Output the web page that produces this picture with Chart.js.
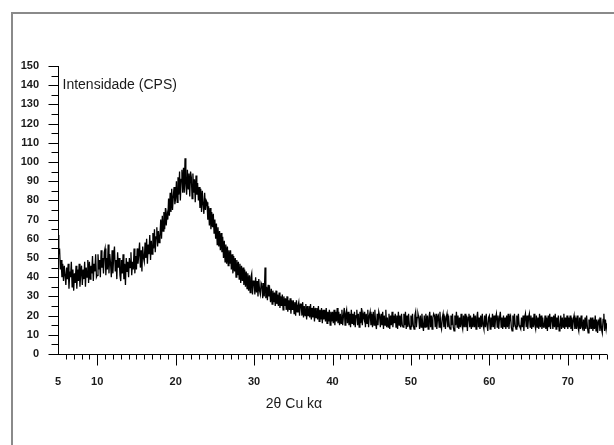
<!DOCTYPE html>
<html>
<head>
<meta charset="utf-8">
<script src="https://cdn.jsdelivr.net/npm/chart.js@4/dist/chart.umd.min.js"></script>
<style>
  html, body { margin: 0; padding: 0; background: #fff; }
  #wrap { width: 614px; height: 445px; }
</style>
</head>
<body>
<div id="wrap"><canvas id="xrd" width="614" height="445"></canvas></div>
<script>
// 2-theta grid of the scan (degrees), one reading every 0.1 deg
var twoThetaStart = 5;
var twoThetaStep = 0.1;

// Intensity (CPS), one row per degree (5.0 .. 75.0)
var counts = [
    62, 52, 55, 44, 49, 40, 47, 38, 46, 41,
    36, 45, 39, 47, 34, 43, 40, 48, 35, 44,
    33, 42, 37, 46, 34, 44, 38, 47, 35, 42,
    46, 36, 44, 39, 48, 35, 45, 40, 49, 37,
    48, 39, 46, 42, 51, 38, 47, 43, 52, 40,
    41, 52, 44, 49, 40, 54, 45, 50, 42, 53,
    55, 41, 50, 44, 57, 42, 52, 47, 40, 54,
    42, 51, 56, 43, 49, 39, 53, 45, 50, 41,
    38, 49, 42, 52, 39, 47, 36, 50, 43, 48,
    40, 50, 45, 53, 41, 48, 44, 55, 42, 51,
    44, 55, 47, 52, 58, 45, 54, 43, 56, 50,
    48, 58, 50, 60, 47, 57, 52, 62, 49, 59,
    52, 63, 55, 65, 53, 61, 66, 56, 64, 58,
    61, 70, 60, 72, 64, 74, 65, 76, 67, 73,
    70, 81, 72, 84, 74, 86, 75, 82, 87, 78,
    81, 90, 79, 92, 83, 95, 80, 91, 96, 84,
    97, 84, 102, 88, 83, 96, 86, 94, 82, 95,
    92, 81, 94, 84, 91, 79, 93, 83, 89, 80,
    87, 76, 86, 74, 85, 78, 73, 84, 75, 80,
    79, 70, 77, 67, 76, 65, 74, 66, 73, 63,
    70, 60, 68, 57, 66, 56, 64, 54, 63, 53,
    61, 50, 59, 48, 57, 47, 56, 46, 54, 47,
    54, 44, 52, 42, 51, 43, 50, 40, 49, 41,
    48, 39, 47, 37, 46, 38, 45, 36, 44, 35,
    43, 34, 42, 33, 41, 32, 40, 42, 31, 38,
    38, 31, 40, 32, 38, 30, 39, 33, 31, 37,
    36, 29, 37, 30, 45, 29, 35, 28, 36, 30,
    33, 27, 34, 26, 33, 27, 32, 25, 33, 26,
    31, 25, 32, 24, 30, 25, 31, 23, 30, 25,
    29, 23, 30, 22, 28, 23, 29, 21, 28, 23,
    28, 21, 27, 20, 28, 22, 25, 27, 20, 26,
    26, 20, 27, 19, 25, 20, 26, 18, 25, 20,
    25, 19, 26, 18, 24, 19, 25, 17, 24, 19,
    24, 18, 25, 17, 23, 18, 24, 16, 23, 18,
    23, 17, 24, 16, 22, 17, 23, 15, 22, 17,
    22, 16, 23, 15, 22, 17, 24, 16, 22, 15,
    21, 16, 23, 15, 20, 24, 15, 21, 23, 16,
    22, 15, 21, 14, 23, 16, 21, 15, 22, 14,
    20, 23, 15, 21, 14, 22, 16, 24, 15, 21,
    19, 22, 14, 21, 16, 23, 14, 20, 22, 15,
    21, 14, 22, 15, 23, 16, 13, 21, 15, 22,
    20, 14, 21, 15, 22, 13, 20, 15, 23, 14,
    19, 14, 21, 13, 20, 15, 22, 14, 20, 16,
    21, 14, 20, 13, 22, 15, 20, 14, 21, 15,
    14, 21, 15, 22, 13, 20, 14, 21, 15, 13,
    20, 14, 21, 15, 13, 20, 22, 14, 19, 21,
    19, 13, 20, 14, 21, 15, 12, 20, 14, 21,
    14, 20, 13, 19, 22, 14, 20, 13, 19, 21,
    20, 14, 21, 13, 19, 20, 14, 22, 15, 13,
    19, 21, 14, 20, 13, 19, 21, 14, 20, 14,
    13, 20, 15, 21, 14, 12, 20, 15, 22, 14,
    20, 13, 19, 14, 21, 15, 13, 20, 14, 21,
    14, 20, 12, 19, 21, 14, 20, 13, 19, 14,
    21, 14, 20, 13, 19, 22, 14, 19, 13, 20,
    14, 21, 15, 13, 20, 14, 21, 15, 12, 19,
    20, 13, 19, 14, 21, 14, 20, 13, 19, 21,
    14, 20, 13, 19, 22, 14, 19, 13, 20, 14,
    19, 13, 20, 14, 21, 13, 19, 20, 14, 12,
    20, 14, 21, 15, 13, 20, 14, 21, 15, 14,
    13, 19, 14, 20, 12, 19, 21, 14, 20, 13,
    19, 21, 14, 20, 13, 19, 14, 21, 15, 13,
    20, 14, 19, 13, 21, 14, 20, 13, 19, 14,
    14, 20, 13, 19, 12, 20, 14, 21, 13, 19,
    19, 13, 20, 14, 21, 13, 19, 14, 20, 12,
    14, 20, 13, 19, 14, 21, 13, 19, 14, 20,
    13, 19, 14, 20, 13, 19, 12, 18, 20, 13,
    19, 13, 20, 14, 12, 19, 13, 20, 14, 13,
    18, 12, 19, 13, 20, 14, 11, 18, 13, 19,
    13, 19, 12, 18, 13, 20, 12, 18, 11, 17,
    18, 12, 19, 13, 11, 18, 21, 12, 18, 13,
    16
];

var xMin = 5, xMax = 75;
var yMin = 0, yMax = 150;
var labeledX = [5, 10, 20, 30, 40, 50, 60, 70];
var yTitle = 'Intensidade (CPS)';
var xTitle = '2\u03b8 Cu k\u03b1';

var points = counts.map(function (c, i) {
    return { x: +(twoThetaStart + i * twoThetaStep).toFixed(1), y: c };
});

var axisFont = { family: 'Arial, "Liberation Sans", sans-serif', size: 11, weight: 'bold' };

// frame, axis lines, tick marks and the two titles
var xrdDecor = {
    id: 'xrdDecor',
    beforeDraw: function (chart) {
        var ctx = chart.ctx;
        ctx.save();
        ctx.strokeStyle = '#8a8a8a';
        ctx.lineWidth = 2;
        ctx.beginPath();
        ctx.moveTo(12, 445);
        ctx.lineTo(12, 13);
        ctx.lineTo(614, 13);
        ctx.stroke();
        ctx.restore();
    },
    afterDraw: function (chart) {
        var ctx = chart.ctx;
        var xs = chart.scales.x, ys = chart.scales.y;
        var left = Math.round(xs.getPixelForValue(xMin)) + 0.5;
        var right = xs.getPixelForValue(xMax);
        var bottom = Math.round(ys.getPixelForValue(yMin)) + 0.5;
        var top = ys.getPixelForValue(yMax);
        ctx.save();
        ctx.strokeStyle = '#000';
        ctx.lineWidth = 1;
        ctx.beginPath();
        ctx.moveTo(left, top);
        ctx.lineTo(left, bottom);
        ctx.moveTo(left - 8, bottom);
        ctx.lineTo(right, bottom);
        // y ticks, every 5, long at the tens
        for (var v = yMin; v <= yMax; v += 5) {
            var py = Math.round(ys.getPixelForValue(v)) + 0.5;
            ctx.moveTo(left, py);
            ctx.lineTo(left - (v % 10 === 0 ? 10 : 7), py);
        }
        // x ticks, every degree, long at the tens
        for (var t = xMin + 1; t <= xMax; t += 1) {
            var px = Math.round(xs.getPixelForValue(t)) + 0.5;
            ctx.moveTo(px, bottom);
            ctx.lineTo(px, bottom + (t % 10 === 0 ? 11 : 5));
        }
        ctx.stroke();

        ctx.fillStyle = '#1a1a1a';
        ctx.font = '14px Arial, "Liberation Sans", sans-serif';
        ctx.textBaseline = 'middle';
        ctx.textAlign = 'left';
        ctx.fillText(yTitle, left + 4, ys.getPixelForValue(140));
        ctx.fillText(xTitle, xs.getPixelForValue(31.5), 404);
        ctx.restore();
    }
};

new Chart(document.getElementById('xrd'), {
    type: 'line',
    data: {
        datasets: [{
            data: points,
            borderColor: '#000',
            borderWidth: 1.3,
            pointRadius: 0,
            tension: 0,
            fill: false
        }]
    },
    options: {
        responsive: false,
        animation: false,
        events: [],
        layout: { padding: { top: 66, right: 7, left: 0, bottom: 0 } },
        plugins: { legend: { display: false }, tooltip: { enabled: false } },
        scales: {
            x: {
                type: 'linear',
                min: xMin,
                max: xMax,
                afterFit: function (s) { s.height = 91; },
                afterBuildTicks: function (s) {
                    s.ticks = labeledX.map(function (v) { return { value: v }; });
                },
                ticks: {
                    autoSkip: false,
                    maxRotation: 0,
                    padding: 21,
                    color: '#1a1a1a',
                    font: axisFont
                },
                grid: { display: false, drawTicks: false },
                border: { display: false }
            },
            y: {
                min: yMin,
                max: yMax,
                afterFit: function (s) { s.width = 58; },
                ticks: {
                    stepSize: 10,
                    padding: 19,
                    color: '#1a1a1a',
                    font: axisFont
                },
                grid: { display: false, drawTicks: false },
                border: { display: false }
            }
        }
    },
    plugins: [xrdDecor]
});
</script>
</body>
</html>
